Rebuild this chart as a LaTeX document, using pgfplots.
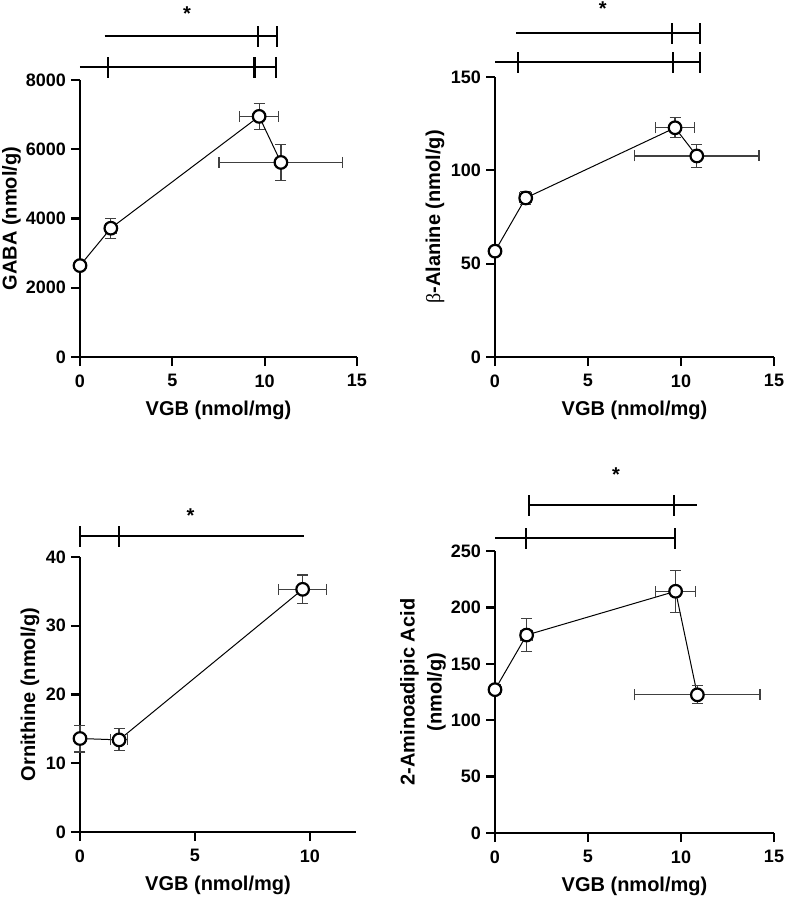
\documentclass[border=0pt]{standalone}
\usepackage{pgfplots}
\pgfplotsset{compat=1.18}
\usepackage{fontspec}
\setmainfont{Liberation Sans}
\newfontfamily\betafont{Liberation Serif}

\tikzset{sig/.style={line width=2.1pt, black, line cap=butt}}
\newcommand{\sigline}[4]{\draw[sig] ([yshift=#2pt]axis cs:#3,#1) -- ([yshift=#2pt]axis cs:#4,#1);}
\newcommand{\sigtick}[3]{\draw[sig] ([yshift=#2pt-10.5pt]axis cs:#3,#1) -- ([yshift=#2pt+10.5pt]axis cs:#3,#1);}
\newcommand{\sigstar}[3]{\node[anchor=north, inner sep=0pt, font=\fontsize{20}{20}\selectfont\bfseries] at ([yshift=#2pt]axis cs:#3,#1) {*};}

\pgfplotsset{
  myax/.style={
    scale only axis,
    axis lines=left,
    axis line style={-, line width=2.3pt, black},
    tick align=outside,
    major tick length=9pt,
    tick style={line width=2.3pt, black},
    xmin=0, ymin=0,
    enlargelimits=false,
    clip=false,
    ticklabel style={font=\fontsize{18}{18}\selectfont\bfseries},
    xticklabel style={yshift=-5pt},
    yticklabel style={xshift=-1.5pt},
    /pgf/number format/assume math mode=true,
    /pgf/number format/set thousands separator={},
    scaled ticks=false,
    xlabel={VGB (nmol/mg)},
    every axis x label/.style={at={([yshift=-53pt]axis description cs:0.5,0)}, anchor=center,
      font=\fontsize{20}{20}\selectfont\bfseries},
  },
  yl/.style={every axis y label/.style={at={([xshift=#1]axis description cs:0,0.5)}, anchor=center, rotate=90,
      align=center, font=\fontsize{20}{27}\selectfont\bfseries}},
  dat/.style={black, line width=1pt, mark=*, mark size=6.3pt,
    mark options={fill=white, draw=black, line width=2.2pt},
    error bars/.cd, x dir=both, x explicit, y dir=both, y explicit,
    error bar style={line width=1.2pt, black!75},
    error mark options={rotate=90, line width=1.2pt, black!75, mark size=5.5pt}},
}

\begin{document}
\begin{tikzpicture}
\useasboundingbox (0,0) rectangle (785pt,-900pt);

% Panel 1: GABA
\begin{axis}[myax, yl=-68.5pt, at={(80pt,-357pt)}, anchor=south west,
  width=277pt, height=277pt, xmax=15, ymax=8000,
  xtick={0,5,10,15}, ytick={0,2000,4000,6000,8000},
  ylabel={GABA (nmol/g)}]
\addplot+[dat] coordinates {
  (0,2640) +- (0,0)
  (1.67,3720) +- (0.31,290)
  (9.7,6950) +- (1.05,370)
  (10.88,5620) +- (3.35,525)
};
\sigline{8000}{13}{0}{10.63}
\sigtick{8000}{13}{1.52}
\sigtick{8000}{13}{9.45}
\sigtick{8000}{13}{10.63}
\sigline{8000}{44}{1.34}{10.69}
\sigtick{8000}{44}{9.63}
\sigtick{8000}{44}{10.69}
\sigstar{8000}{73}{5.8}
\end{axis}

% Panel 2: beta-Alanine
\begin{axis}[myax, yl=-60pt, at={(495pt,-357pt)}, anchor=south west,
  width=279pt, height=280pt, xmax=15, ymax=150,
  xtick={0,5,10,15}, ytick={0,50,100,150},
  ylabel={{\betafont\mdseries β}-Alanine (nmol/g)}]
\addplot+[dat] coordinates {
  (0,56.7) +- (0,1.5)
  (1.65,85.2) +- (0.32,3.3)
  (9.68,122.8) +- (1.06,5.3)
  (10.85,107.7) +- (3.34,6)
};
\sigline{150}{15}{0}{11.0}
\sigtick{150}{15}{1.24}
\sigtick{150}{15}{9.57}
\sigtick{150}{15}{11.0}
\sigline{150}{44}{1.13}{11.0}
\sigtick{150}{44}{9.52}
\sigtick{150}{44}{11.0}
\sigstar{150}{75}{5.8}
\end{axis}

% Panel 3: Ornithine
\begin{axis}[myax, yl=-50pt, at={(80pt,-832pt)}, anchor=south west,
  width=276pt, height=275pt, xmax=12, ymax=40,
  xtick={0,5,10}, ytick={0,10,20,30,40},
  ylabel={Ornithine (nmol/g)}]
\addplot+[dat] coordinates {
  (0,13.6) +- (0,1.95)
  (1.7,13.4) +- (0.36,1.6)
  (9.68,35.3) +- (1.05,2.07)
};
\sigline{40}{20.6}{0}{9.75}
\sigtick{40}{20.6}{0}
\sigtick{40}{20.6}{1.7}
\sigstar{40}{48}{4.8}
\end{axis}

% Panel 4: 2-Aminoadipic Acid
\begin{axis}[myax, yl=-72pt, at={(495pt,-833pt)}, anchor=south west,
  width=279pt, height=282pt, xmax=15, ymax=250,
  xtick={0,5,10,15}, ytick={0,50,100,150,200,250},
  ylabel={2-Aminoadipic Acid\\(nmol/g)}]
\addplot+[dat] coordinates {
  (0,127.1) +- (0,4.5)
  (1.7,175.5) +- (0.3,14.5)
  (9.71,214.3) +- (1.07,18.6)
  (10.88,122.5) +- (3.37,8)
};
\sigline{250}{13}{0}{9.7}
\sigtick{250}{13}{1.65}
\sigtick{250}{13}{9.7}
\sigline{250}{45.7}{1.84}{10.87}
\sigtick{250}{45.7}{1.84}
\sigtick{250}{45.7}{9.64}
\sigstar{250}{83}{6.5}
\end{axis}
\end{tikzpicture}
\end{document}
